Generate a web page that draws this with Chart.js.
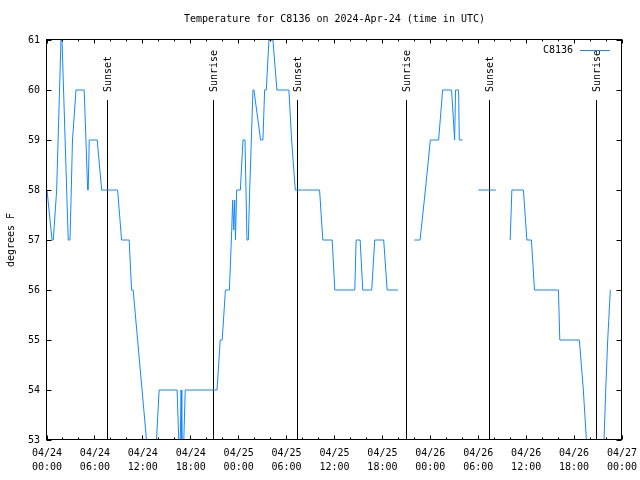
<!DOCTYPE html>
<html>
<head>
<meta charset="utf-8">
<script src="https://cdn.jsdelivr.net/npm/chart.js@4.4.1/dist/chart.umd.min.js"></script>
<style>
  html, body { margin: 0; padding: 0; background: #fff; }
  #wrap { width: 640px; height: 480px; }
</style>
</head>
<body>
<div id="wrap"><canvas id="tempChart" width="640" height="480"></canvas></div>
<script>
// hours since 04/24 00:00 UTC, null marks a gap in the record
const hours = [
    0.00, 0.09, 0.63, 0.79, 1.21, 1.75, 1.88, 2.66, 2.88, 3.04, 3.19, 3.63, 4.66, 5.09, 5.16, 5.29,
    6.29, 6.84, 8.84, 9.34, 10.29, 10.59, 10.79, 12.46, 13.09, 13.71, 14.04, 16.29, 16.50, 16.69,
    16.79, 16.88, 17.13, 17.31, 21.29, 21.69, 21.94, 22.34, 22.84, 23.13, 23.25, 23.38, 23.50,
    23.60, 23.75, 24.21, 24.54, 24.79, 25.04, 25.21, 25.38, 25.79, 25.91, 26.75, 27.04, 27.25,
    27.46, 27.79, 28.29, 28.79, 30.29, 30.63, 31.09, 34.13, 34.54, 35.71, 36.04, 38.54, 38.71,
    39.21, 39.54, 40.66, 41.04, 42.16, 42.59, 43.96, 44.5,
    46.00, 46.71, 47.38, 48.00, 49.04, 49.54, 50.66, 51.04, 51.16, 51.54, 51.63, 52.04, 53.0,
    54.00, 56.21, 57.0,
    58.00, 58.21, 59.66, 60.09, 60.66, 61.04, 64.04, 64.21, 66.66, 67.16, 67.54, 68.63, 69.75,
    69.96, 70.21, 70.54
];
const tempsF = [
    58, 58, 57, 57, 58, 61, 61, 57, 57, 58, 59, 60, 60, 58, 58, 59,
    59, 58, 58, 57, 57, 56, 56, 53, 52.3, 53, 54, 54, 53, 53,
    54, 53, 53, 54, 54, 55, 55, 56, 56, 57.2, 57.8, 57.2, 57.8,
    57, 58, 58, 59, 59, 57, 57, 58, 60, 60, 59, 59, 60,
    60, 61, 61, 60, 60, 59, 58, 58, 57, 57, 56, 56, 57,
    57, 56, 56, 57, 57, 56, 56, null,
    57, 57, 58, 59, 59, 60, 60, 59, 60, 60, 59, 59, null,
    58, 58, null,
    57, 58, 58, 57, 57, 56, 56, 55, 55, 54, 53, 52.2, 53,
    54, 55, 56
];

const sunHours = [7.54, 20.91, 31.41, 44.96, 55.41, 68.79];
const sunLabels = ['Sunset', 'Sunrise', 'Sunset', 'Sunrise', 'Sunset', 'Sunrise'];
const sunLineTop = 59.8;

const xTickLabels = [
    ['04/24', '00:00'], ['04/24', '06:00'], ['04/24', '12:00'], ['04/24', '18:00'],
    ['04/25', '00:00'], ['04/25', '06:00'], ['04/25', '12:00'], ['04/25', '18:00'],
    ['04/26', '00:00'], ['04/26', '06:00'], ['04/26', '12:00'], ['04/26', '18:00'],
    ['04/27', '00:00']
];

const MONO = '"DejaVu Sans Mono", monospace';
const LINE_BLUE = 'rgb(20, 136, 255)';

Chart.defaults.color = '#000';
Chart.defaults.font.family = MONO;
Chart.defaults.font.size = 10;

// gnuplot look: box frame, inward ticks, sun markers, small legend
const gnuplotFrame = {
    id: 'gnuplotFrame',
    beforeDatasetsDraw(chart) {
        const {ctx, chartArea: a, scales: {x, y}} = chart;
        ctx.save();
        ctx.strokeStyle = '#000';
        ctx.fillStyle = '#000';
        ctx.lineWidth = 1;
        ctx.font = '10px ' + MONO;
        sunHours.forEach((h, i) => {
            const px = Math.floor(x.getPixelForValue(h)) + 0.5;
            const top = Math.round(y.getPixelForValue(sunLineTop));
            ctx.beginPath();
            ctx.moveTo(px, top);
            ctx.lineTo(px, a.bottom);
            ctx.stroke();
            ctx.save();
            ctx.translate(px + 1, top - 8);
            ctx.rotate(-Math.PI / 2);
            ctx.textAlign = 'left';
            ctx.textBaseline = 'middle';
            ctx.fillText(sunLabels[i], 0, 0);
            ctx.restore();
        });
        ctx.restore();
    },
    afterDatasetsDraw(chart) {
        const {ctx, chartArea: a, scales: {x, y}} = chart;
        const l = Math.round(a.left) - 0.5, r = Math.round(a.right) - 0.5;
        const t = Math.round(a.top) - 0.5, b = Math.round(a.bottom) - 0.5;
        ctx.save();
        ctx.strokeStyle = '#000';
        ctx.lineWidth = 1;
        ctx.strokeRect(l, t, r - l, b - t);

        ctx.beginPath();
        x.ticks.forEach(tk => {
            const px = Math.floor(x.getPixelForValue(tk.value)) + 0.5;
            const len = tk.value % 6 === 0 ? 4 : 2;
            ctx.moveTo(px, b); ctx.lineTo(px, b - len);
            ctx.moveTo(px, t); ctx.lineTo(px, t + len);
        });
        y.ticks.forEach(tk => {
            const py = Math.floor(y.getPixelForValue(tk.value)) + 0.5;
            ctx.moveTo(l, py); ctx.lineTo(l + 5, py);
            ctx.moveTo(r, py); ctx.lineTo(r - 5, py);
        });
        ctx.stroke();

        // legend, top right inside the box
        const ds = chart.data.datasets[0];
        const ly = Math.round(a.top) + 10.5;
        ctx.strokeStyle = ds.borderColor;
        ctx.beginPath();
        ctx.moveTo(a.right - 42, ly);
        ctx.lineTo(a.right - 12, ly);
        ctx.stroke();
        ctx.fillStyle = '#000';
        ctx.font = '10px ' + MONO;
        ctx.textAlign = 'right';
        ctx.textBaseline = 'middle';
        ctx.fillText(ds.label, a.right - 49, ly);
        ctx.restore();
    }
};

new Chart(document.getElementById('tempChart'), {
    type: 'line',
    data: {
        datasets: [{
            label: 'C8136',
            data: hours.map((h, i) => ({x: h, y: tempsF[i]})),
            borderColor: LINE_BLUE,
            borderWidth: 1,
            pointRadius: 0,
            tension: 0,
            spanGaps: false
        }]
    },
    options: {
        responsive: false,
        animation: false,
        devicePixelRatio: 1,
        layout: {padding: {top: 0, right: 18, bottom: 0, left: 0}},
        scales: {
            x: {
                type: 'linear',
                min: 0,
                max: 72,
                grid: {display: false, drawTicks: false},
                border: {display: false},
                ticks: {
                    stepSize: 2,
                    autoSkip: false,
                    maxRotation: 0,
                    padding: 6,
                    font: {size: 10, lineHeight: 1.4},
                    callback: v => (v % 6 === 0 ? xTickLabels[v / 6] : '')
                },
                afterFit: s => { s.height = 40; s.paddingLeft = 0; s.paddingRight = 0; }
            },
            y: {
                min: 53,
                max: 61,
                grid: {display: false, drawTicks: false},
                border: {display: false},
                ticks: {stepSize: 1, padding: 7, font: {size: 10}},
                title: {
                    display: true,
                    text: 'degrees F',
                    font: {size: 10},
                    padding: {top: 5, bottom: 0}
                },
                afterFit: s => { s.width = 47; s.paddingTop = 0; s.paddingBottom = 0; }
            }
        },
        plugins: {
            legend: {display: false},
            tooltip: {enabled: false},
            title: {
                display: true,
                fullSize: false,
                text: 'Temperature for C8136 on 2024-Apr-24 (time in UTC)',
                font: {size: 10, weight: 'normal'},
                padding: {top: 13, bottom: 15}
            }
        }
    },
    plugins: [gnuplotFrame]
});
</script>
</body>
</html>
